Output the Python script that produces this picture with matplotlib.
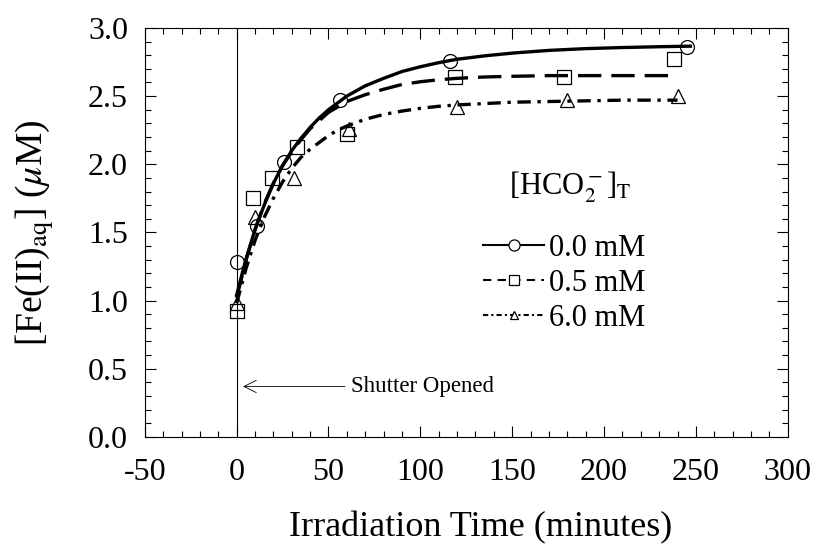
import matplotlib
matplotlib.use("Agg")
import matplotlib.pyplot as plt
from matplotlib.ticker import MultipleLocator, FormatStrFormatter

plt.rcParams['font.family'] = ['Liberation Serif', 'DejaVu Serif']
plt.rcParams['mathtext.fontset'] = 'stix'
plt.rcParams['axes.unicode_minus'] = False

# measured points
t_0 = [0, 11, 26, 56, 116, 245]
fe_0 = [1.28, 1.55, 2.02, 2.47, 2.76, 2.86]
t_05 = [0, 9, 19, 33, 60, 119, 178, 238]
fe_05 = [0.92, 1.75, 1.90, 2.13, 2.22, 2.64, 2.64, 2.77]
t_6 = [0, 10, 31, 61, 120, 180, 240]
fe_6 = [0.98, 1.61, 1.90, 2.26, 2.42, 2.47, 2.50]

# fitted curves
fit_t0 = [0, 5, 10, 15, 20, 25, 30, 35, 40, 45, 50, 55, 60, 70, 80, 90, 100, 110, 120, 135, 150, 170, 190, 210, 230, 247]
fit_0 = [1.04, 1.30, 1.52, 1.70, 1.86, 1.99, 2.10, 2.19, 2.27, 2.34, 2.40, 2.45, 2.50, 2.575, 2.63, 2.68, 2.715, 2.745, 2.77, 2.795, 2.815, 2.835, 2.848, 2.856, 2.862, 2.866]
fit_t = [0, 5, 10, 15, 20, 25, 30, 35, 40, 45, 50, 55, 60, 70, 80, 90, 100, 110, 120, 135, 150, 170, 190, 210, 240]
fit_05 = [1.02, 1.29, 1.52, 1.71, 1.86, 1.99, 2.09, 2.18, 2.26, 2.32, 2.38, 2.42, 2.46, 2.51, 2.55, 2.585, 2.605, 2.62, 2.63, 2.64, 2.645, 2.65, 2.65, 2.65, 2.65]
fit_6 = [0.98, 1.23, 1.44, 1.61, 1.75, 1.87, 1.97, 2.05, 2.11, 2.16, 2.21, 2.25, 2.28, 2.33, 2.365, 2.39, 2.41, 2.425, 2.435, 2.445, 2.455, 2.46, 2.465, 2.47, 2.47]

labels = ['0.0 mM', '0.5 mM', '6.0 mM']

fig = plt.figure(figsize=(8.18, 5.58), dpi=100)
ax = fig.add_axes([0.177, 0.217, 0.786, 0.733])

ax.axvline(0, color='black', lw=0.8)

ax.plot(fit_t0, fit_0, color='black', lw=2.4)
ax.plot(fit_t, fit_05, color='black', lw=2.4, dashes=(7, 3))
ax.plot(fit_t, fit_6, color='black', lw=2.4, dashes=(4, 2, 1, 2))

ax.plot(t_0, fe_0, 'o', mfc='none', mec='black', mew=0.9, ms=10)
ax.plot(t_05, fe_05, 's', mfc='none', mec='black', mew=0.9, ms=10)
ax.plot(t_6, fe_6, '^', mfc='none', mec='black', mew=0.9, ms=10)

# legend handles
h0, = ax.plot([], [], color='black', lw=1.5, marker='o', mfc='white', mec='black', ms=8, mew=0.9)
h05, = ax.plot([], [], color='black', lw=1.5, dashes=(4, 3), marker='s', mfc='white', mec='black', ms=7, mew=0.9)
h6, = ax.plot([], [], color='black', lw=1.5, dashes=(2.5, 1.5, 1, 1.5), marker='^', mfc='white', mec='black', ms=6, mew=0.9)
ax.legend([h0, h05, h6], labels, loc='center left',
          bbox_to_anchor=(0.526, 0.375), frameon=False, fontsize=22,
          handlelength=2.0, handletextpad=0.15, labelspacing=0.2,
          borderpad=0, borderaxespad=0)
ax.text(0.661, 0.611, r'[HCO$_2^{\rm -}$]$_{\rm T}$', transform=ax.transAxes,
        fontsize=22, ha='center', va='center')

ax.annotate('Shutter Opened', xy=(2, 0.37), xytext=(62, 0.37),
            fontsize=16.5, va='center', ha='left',
            arrowprops=dict(arrowstyle='->', color='black', lw=0.6, mutation_scale=22))

ax.set_xlim(-50, 300)
ax.set_ylim(0, 3.0)
ax.xaxis.set_major_locator(MultipleLocator(50))
ax.xaxis.set_minor_locator(MultipleLocator(10))
ax.yaxis.set_major_locator(MultipleLocator(0.5))
ax.yaxis.set_minor_locator(MultipleLocator(0.1))
ax.yaxis.set_major_formatter(FormatStrFormatter('%.1f'))
ax.tick_params(which='both', direction='in', top=True, right=True, labelsize=23, width=0.8)
ax.tick_params(which='major', length=8, pad=12)
ax.tick_params(axis='x', which='major', pad=15)
ax.tick_params(which='minor', length=4)
for s in ax.spines.values():
    s.set_linewidth(0.8)

ax.set_xlabel('Irradiation Time (minutes)', fontsize=26)
ax.xaxis.set_label_coords(0.523, -0.222)
ax.xaxis.label.set_va('center')
ax.set_ylabel(r'[Fe(II)$_{\rm aq}$] ($\mu$M)', fontsize=27, labelpad=23)

fig.savefig('out.png', dpi=100)
